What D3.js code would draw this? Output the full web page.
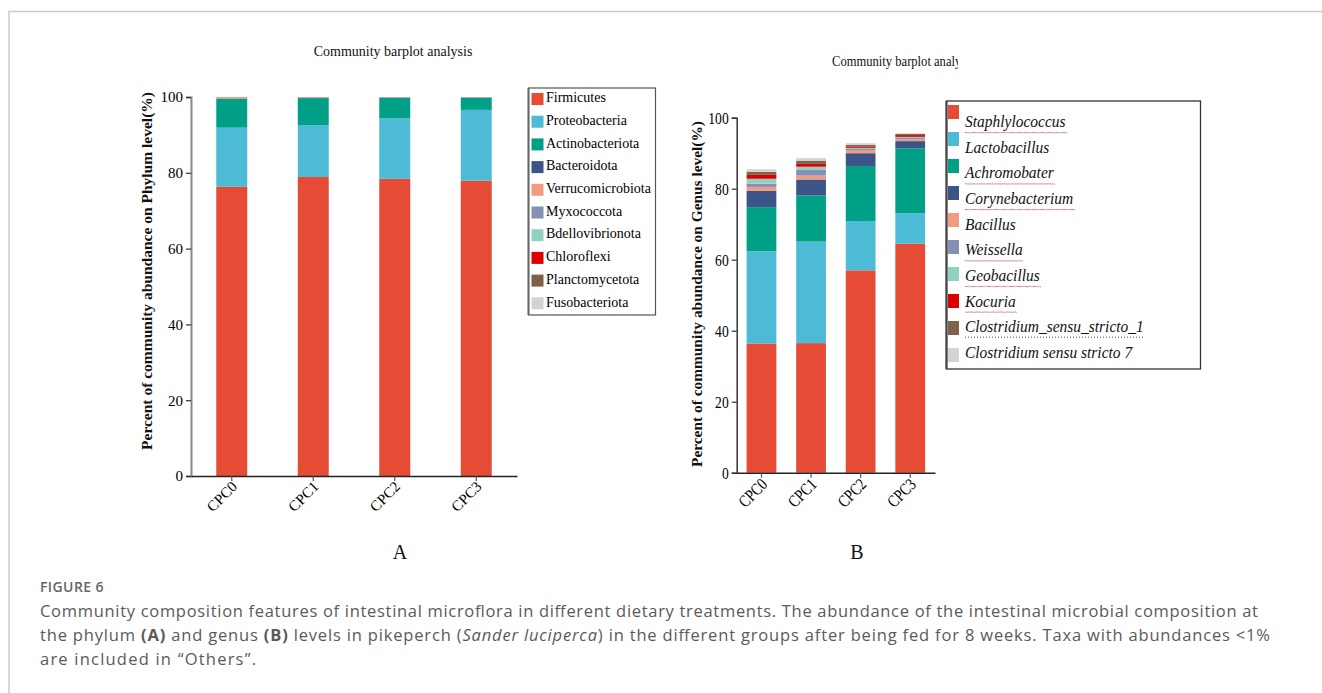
<!DOCTYPE html>
<html>
<head>
<meta charset="utf-8">
<script src="https://cdn.jsdelivr.net/npm/d3@7/dist/d3.min.js"></script>
<style>
  html, body { margin: 0; padding: 0; background: #fff; }
  svg { display: block; }
</style>
</head>
<body>
<svg id="fig" width="1322" height="693"></svg>
<script>
// ---- data ----
const groups = ["CPC0", "CPC1", "CPC2", "CPC3"];
const yTicks = [0, 20, 40, 60, 80, 100];

// Phylum level (%)
const phyla = ["Firmicutes", "Proteobacteria", "Actinobacteriota", "Bacteroidota",
  "Verrucomicrobiota", "Myxococcota", "Bdellovibrionota", "Chloroflexi",
  "Planctomycetota", "Fusobacteriota"];
const firmicutes        = [76.3, 78.9, 78.4, 77.9];
const proteobacteria    = [15.6, 13.7, 16.0, 18.7];
const actinobacteriota  = [7.6, 7.1, 5.4, 3.2];
const bacteroidota      = [0.1, 0.15, 0.1, 0.1];
const verrucomicrobiota = [0.4, 0.15, 0.1, 0.1];
const myxococcota       = [0, 0, 0, 0];
const bdellovibrionota  = [0, 0, 0, 0];
const chloroflexi       = [0, 0, 0, 0];
const planctomycetota   = [0, 0, 0, 0];
const fusobacteriota    = [0, 0, 0, 0];
const phylumSeries = [firmicutes, proteobacteria, actinobacteriota, bacteroidota,
  verrucomicrobiota, myxococcota, bdellovibrionota, chloroflexi, planctomycetota, fusobacteriota];

// Genus level (%)
const genera = ["Staphlylococcus", "Lactobacillus", "Achromobater", "Corynebacterium",
  "Bacillus", "Weissella", "Geobacillus", "Kocuria",
  "Clostridium_sensu_stricto_1", "Clostridium sensu stricto 7"];
const staphylococcus = [36.4, 36.5, 57.0, 64.5];
const lactobacillus  = [26.0, 28.6, 13.9, 8.6];
const achromobater   = [12.4, 13.0, 15.5, 18.3];
const corynebacterium = [4.6, 4.5, 3.6, 2.0];
const bacillus       = [1.1, 1.1, 0.9, 0.5];
const weissella      = [0.9, 1.6, 0.3, 0.4];
const geobacillus    = [1.4, 0.9, 0.3, 0.3];
const kocuria        = [1.1, 0.8, 0.3, 0.5];
const clostridium1   = [0.8, 0.8, 0.5, 0.3];
const clostridium7   = [0.8, 0.8, 0.5, 0.2];
const genusSeries = [staphylococcus, lactobacillus, achromobater, corynebacterium,
  bacillus, weissella, geobacillus, kocuria, clostridium1, clostridium7];
// squiggle style under genus names: "wave", "dots" or none
const genusMarks = ["wave", null, "wave", "wave", null, "wave", "wave", "wave", "dots", null];

const palette = ["#E64B35", "#4DBBD5", "#00A087", "#3C5488", "#F39B7F",
  "#8491B4", "#91D1C2", "#DC0000", "#7E6148", "#D3D3D3"];

const svg = d3.select("#fig");
const serif = "'Liberation Serif', 'Times New Roman', serif";

// page frame
svg.append("path").attr("d", "M9,693 V11.5 H1322")
  .attr("fill", "none").attr("stroke", "#cccccc").attr("stroke-width", 1.5);

function buildTable(names, series) {
  return groups.map((g, gi) => {
    const row = { group: g };
    names.forEach((n, i) => { row[n] = series[i][gi]; });
    return row;
  });
}

function drawPanel(cfg) {
  const g = svg.append("g");
  const sq = cfg.squeeze || 1;
  const x = d3.scaleBand().domain(groups).range([cfg.x0, cfg.x1])
    .paddingInner(cfg.padInner).paddingOuter(cfg.padInner / 2);
  const y = d3.scaleLinear().domain([0, 100]).range([cfg.y0, cfg.y1]);

  const table = buildTable(cfg.names, cfg.series);
  const stacked = d3.stack().keys(cfg.names)(table);

  g.selectAll("g.layer").data(stacked).join("g").attr("class", "layer")
    .attr("fill", (d, i) => palette[i])
    .selectAll("rect").data(d => d).join("rect")
    .attr("x", d => x(d.data.group))
    .attr("width", x.bandwidth())
    .attr("y", d => y(d[1]))
    .attr("height", d => Math.max(0, y(d[0]) - y(d[1])));

  // y axis
  const ya = g.append("g").attr("transform", `translate(${cfg.x0},0)`)
    .call(d3.axisLeft(y).tickValues(yTicks).tickSize(5).tickPadding(3));
  ya.select(".domain").attr("stroke", cfg.yAxisColor).attr("stroke-width", cfg.yAxisWidth);
  ya.selectAll(".tick line").attr("stroke", "#333").attr("stroke-width", 1.2);
  ya.selectAll(".tick text").attr("font-family", serif).attr("font-size", cfg.tickFont)
    .attr("fill", "#000")
    .attr("x", -8 / sq)
    .attr("transform", sq !== 1 ? `scale(${sq},1)` : null);

  // x axis
  const xa = g.append("g").attr("transform", `translate(0,${cfg.y0})`)
    .call(d3.axisBottom(x).tickSize(5).tickSizeOuter(0));
  xa.select(".domain").attr("stroke", "#222").attr("stroke-width", 1.5);
  xa.selectAll(".tick line").attr("stroke", "#555").attr("stroke-width", 1.2);
  xa.selectAll(".tick text").remove();
  xa.selectAll(".tick").append("text")
    .attr("transform", `translate(4,${cfg.xLabelDy}) rotate(-45)${sq !== 1 ? ` scale(${sq},1)` : ""}`)
    .attr("text-anchor", "end").attr("dominant-baseline", "middle")
    .attr("font-family", serif).attr("font-size", cfg.xFont).attr("fill", "#000")
    .text(d => d);

  // y axis title
  g.append("text")
    .attr("transform", `translate(${cfg.yTitleX},${cfg.yTitleY}) rotate(-90)`)
    .attr("text-anchor", "middle").attr("dominant-baseline", "middle")
    .attr("font-family", serif).attr("font-size", cfg.yTitleFont).attr("font-weight", "bold")
    .attr("fill", "#111").text(cfg.yTitle);

  // panel letter
  g.append("text").attr("x", cfg.letterX).attr("y", 559)
    .attr("text-anchor", "middle").attr("font-family", serif).attr("font-size", 20)
    .attr("fill", "#111").text(cfg.letter);
  return g;
}

// ---- Panel A: phylum ----
drawPanel({
  names: phyla, series: phylumSeries,
  x0: 191, x1: 517, padInner: 0.62, y0: 476, y1: 97,
  yAxisColor: "#888", yAxisWidth: 2, tickFont: 15, xFont: 15, xLabelDy: 9,
  yTitleX: 148, yTitleY: 271, yTitleFont: 15.5,
  yTitle: "Percent of community abundance on Phylum level(%)",
  letter: "A", letterX: 400
});
svg.append("text").attr("x", 393).attr("y", 56).attr("text-anchor", "middle")
  .attr("font-family", serif).attr("font-size", 14).attr("fill", "#111")
  .text("Community barplot analysis");

// legend A
const legA = svg.append("g");
legA.append("rect").attr("x", 528.5).attr("y", 88).attr("width", 127).attr("height", 227)
  .attr("fill", "#fff").attr("stroke", "#555").attr("stroke-width", 1.2);
legA.append("line").attr("x1", 528.5).attr("x2", 528.5).attr("y1", 88).attr("y2", 315)
  .attr("stroke", "#666").attr("stroke-width", 2);
phyla.forEach((n, i) => {
  legA.append("rect").attr("x", 531.5).attr("y", 93 + i * 22.7)
    .attr("width", 12).attr("height", 12).attr("fill", palette[i]);
  legA.append("text").attr("x", 546).attr("y", 99 + i * 22.7)
    .attr("dominant-baseline", "middle").attr("font-family", serif)
    .attr("font-size", 14).attr("fill", "#000").text(n);
});

// ---- Panel B: genus ----
drawPanel({
  names: genera, series: genusSeries,
  x0: 736.7, x1: 935, padInner: 0.4, y0: 472.7, y1: 117.7,
  yAxisColor: "#333", yAxisWidth: 1.5, tickFont: 17, xFont: 17, xLabelDy: 10,
  squeeze: 0.8,
  yTitleX: 698, yTitleY: 294, yTitleFont: 15.4,
  yTitle: "Percent of community abundance on Genus level(%)",
  letter: "B", letterX: 857
});
// panel B title runs past its frame and is cut off
svg.append("clipPath").attr("id", "titleClipB")
  .append("rect").attr("x", 800).attr("y", 40).attr("width", 158).attr("height", 40);
svg.append("g").attr("clip-path", "url(#titleClipB)")
  .append("text").attr("transform", "translate(832,66) scale(0.9,1)")
  .attr("font-family", serif).attr("font-size", 14).attr("fill", "#111")
  .text("Community barplot analysis");

// legend B
const legB = svg.append("g");
legB.append("rect").attr("x", 946.5).attr("y", 101).attr("width", 254).attr("height", 268)
  .attr("fill", "#fff").attr("stroke", "#333").attr("stroke-width", 1.3);
legB.append("line").attr("x1", 946.5).attr("x2", 946.5).attr("y1", 101).attr("y2", 369)
  .attr("stroke", "#444").attr("stroke-width", 2.2);
const legSq = 0.91;
genera.forEach((n, i) => {
  legB.append("rect").attr("x", 948).attr("y", 105 + i * 27)
    .attr("width", 11).attr("height", 14).attr("fill", palette[i]);
  const ty = 127 + i * 25.65;
  const t = legB.append("text")
    .attr("transform", `translate(965,${ty}) scale(${legSq},1)`)
    .attr("font-family", serif).attr("font-style", "italic")
    .attr("font-size", 17).attr("fill", "#111").text(n);
  const w = t.node().getComputedTextLength() * legSq;
  const uy = ty + 5;
  if (genusMarks[i] === "wave") {
    let d = `M965,${uy}`;
    for (let xx = 965; xx < 965 + w; xx += 2) {
      d += ` L${xx + 1},${uy + 1.2} L${xx + 2},${uy}`;
    }
    legB.append("path").attr("d", d).attr("fill", "none")
      .attr("stroke", "#b0354a").attr("stroke-width", 0.7).attr("stroke-dasharray", "1.2,0.6");
  } else if (genusMarks[i] === "dots") {
    legB.append("line").attr("x1", 965).attr("x2", 965 + w).attr("y1", uy).attr("y2", uy)
      .attr("stroke", "#333").attr("stroke-width", 0.9).attr("stroke-dasharray", "1,2");
  }
});

// ---- caption ----
const sans = "'Open Sans', 'Noto Sans', sans-serif";
svg.append("text").attr("x", 40).attr("y", 592)
  .attr("font-family", sans).attr("font-size", 14).attr("font-weight", 600)
  .attr("letter-spacing", 0.4).attr("fill", "#666").text("FIGURE 6");

const captionLines = [
  [{ t: "Community composition features of intestinal microflora in different dietary treatments. The abundance of the intestinal microbial composition at" }],
  [{ t: "the phylum " }, { t: "(A)", b: true }, { t: " and genus " }, { t: "(B)", b: true },
   { t: " levels in pikeperch (" }, { t: "Sander luciperca", i: true },
   { t: ") in the different groups after being fed for 8 weeks. Taxa with abundances <1%" }],
  [{ t: "are included in \u201COthers\u201D." }]
];
const captionWidths = [1218, 1230, 216];
captionLines.forEach((parts, li) => {
  const t = svg.append("text").attr("x", 40).attr("y", 617 + li * 24)
    .attr("font-family", sans).attr("font-size", 16.5).attr("fill", "#5a5a5a")
    .attr("textLength", captionWidths[li]).attr("lengthAdjust", "spacing");
  parts.forEach(p => {
    t.append("tspan").text(p.t)
      .attr("font-weight", p.b ? 700 : null)
      .attr("font-style", p.i ? "italic" : null);
  });
});
</script>
</body>
</html>
